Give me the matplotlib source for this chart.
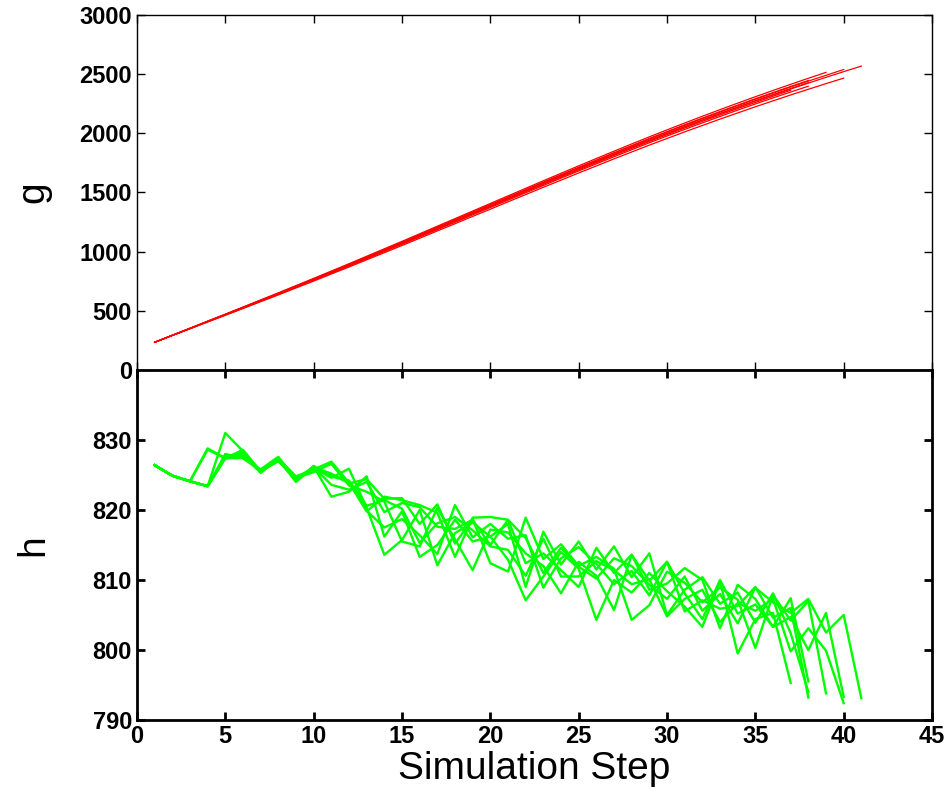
import matplotlib
matplotlib.use("Agg")
import matplotlib.pyplot as plt

plt.rcParams['font.family'] = ['Liberation Sans', 'DejaVu Sans']

# g per run (run i covers steps 1..len)
g_runs = [
    [234, 293, 350, 409, 466, 525, 584, 642, 702, 761, 822, 883, 944, 1006, 1067, 1130, 1193, 1255, 1318, 1380,
     1443, 1506, 1568, 1630, 1691, 1752, 1813, 1872, 1931, 1988, 2045, 2101, 2155, 2209, 2261, 2313, 2364],
    [234, 292, 349, 408, 465, 523, 581, 639, 699, 758, 818, 878, 939, 1001, 1062, 1124, 1186, 1248, 1311, 1373,
     1435, 1497, 1559, 1621, 1682, 1742, 1802, 1861, 1920, 1977, 2033, 2088, 2142, 2196, 2248, 2299, 2349, 2398],
    [234, 293, 351, 410, 468, 527, 586, 645, 705, 765, 826, 887, 949, 1011, 1073, 1136, 1199, 1262, 1325, 1388,
     1451, 1514, 1577, 1639, 1701, 1762, 1823, 1883, 1942, 2000, 2057, 2113, 2168, 2222, 2275, 2327, 2378, 2428],
    [234, 293, 352, 411, 470, 529, 589, 648, 709, 769, 831, 892, 955, 1017, 1080, 1143, 1207, 1270, 1334, 1397,
     1461, 1524, 1588, 1650, 1713, 1774, 1836, 1896, 1956, 2014, 2072, 2128, 2184, 2238, 2292, 2344, 2396, 2446],
    [234, 294, 353, 413, 472, 532, 592, 652, 713, 774, 836, 898, 961, 1024, 1087, 1151, 1215, 1279, 1343, 1407,
     1471, 1535, 1599, 1662, 1725, 1787, 1849, 1910, 1970, 2029, 2087, 2144, 2200, 2255, 2309, 2362, 2414, 2465,
     2515],
    [234, 293, 352, 411, 469, 529, 588, 647, 708, 768, 830, 891, 953, 1016, 1078, 1141, 1205, 1268, 1331, 1395,
     1458, 1521, 1585, 1647, 1709, 1771, 1832, 1892, 1952, 2010, 2068, 2124, 2179, 2234, 2287, 2339, 2391, 2441,
     2490, 2539],
    [234, 291, 348, 405, 462, 519, 577, 634, 693, 751, 811, 870, 931, 991, 1052, 1113, 1175, 1236, 1298, 1359,
     1421, 1482, 1544, 1604, 1665, 1724, 1784, 1842, 1900, 1956, 2012, 2066, 2120, 2172, 2224, 2274, 2324, 2372,
     2420, 2466],
    [234, 293, 351, 410, 468, 526, 585, 644, 704, 764, 825, 886, 948, 1010, 1072, 1134, 1197, 1260, 1323, 1386,
     1449, 1512, 1575, 1637, 1699, 1759, 1820, 1880, 1939, 1997, 2054, 2110, 2165, 2219, 2272, 2323, 2374, 2424,
     2473, 2521, 2568],
]

# h per run
h_runs = [
    [826.4, 824.9, 824.1, 823.4, 831.0, 828.4, 825.5, 827.3, 824.0, 826.2, 821.9, 822.6, 824.8, 816.2, 819.8,
     813.3, 815.0, 818.6, 815.5, 816.2, 812.9, 807.1, 810.5, 814.0, 811.6, 804.3, 810.0, 808.2, 811.0, 808.4,
     806.2, 803.3, 809.8, 799.5, 804.4, 805.3, 795.3],
    [826.4, 824.9, 824.1, 828.8, 827.4, 827.6, 825.7, 827.4, 824.8, 825.8, 826.9, 823.9, 819.8, 821.9, 821.4,
     820.7, 819.6, 813.3, 818.9, 819.0, 818.6, 812.4, 813.8, 811.4, 809.0, 814.6, 811.0, 813.6, 808.6, 809.5,
     811.7, 810.0, 803.1, 809.3, 807.3, 803.3, 807.4, 795.5],
    [826.4, 824.9, 824.1, 823.4, 828.0, 827.4, 825.6, 827.1, 824.3, 826.0, 824.6, 825.9, 820.3, 813.6, 815.7,
     820.0, 812.1, 816.7, 818.2, 816.2, 818.0, 809.0, 816.9, 812.2, 815.5, 811.5, 814.8, 810.4, 813.8, 805.0,
     808.6, 810.4, 806.6, 808.2, 803.9, 808.1, 802.4, 794.0],
    [826.4, 824.9, 824.1, 823.4, 827.4, 828.6, 825.5, 827.0, 824.6, 825.4, 826.6, 823.5, 822.6, 821.2, 815.5,
     814.8, 820.3, 815.8, 811.4, 817.2, 816.8, 813.8, 812.0, 808.1, 812.6, 810.6, 805.7, 813.6, 809.9, 812.6,
     805.5, 807.1, 805.9, 806.3, 809.0, 804.6, 806.0, 793.2],
    [826.4, 824.9, 824.1, 823.4, 827.6, 827.9, 825.3, 827.4, 824.5, 826.1, 825.2, 823.8, 824.4, 821.6, 821.7,
     818.0, 820.8, 815.2, 818.7, 812.4, 811.2, 818.9, 813.0, 815.1, 812.0, 813.3, 811.6, 804.3, 806.4, 811.2,
     809.6, 806.8, 808.9, 807.2, 800.3, 807.9, 804.2, 807.0, 793.8],
    [826.4, 824.9, 824.1, 823.4, 827.6, 827.8, 825.4, 827.2, 824.1, 826.3, 824.8, 824.1, 819.9, 817.5, 818.7,
     816.4, 813.7, 820.7, 816.1, 818.0, 815.9, 816.4, 808.9, 813.1, 814.7, 812.3, 809.4, 811.3, 807.8, 812.6,
     808.1, 804.4, 810.0, 805.2, 806.5, 803.3, 804.7, 800.0, 805.3, 793.3],
    [826.4, 824.9, 824.1, 828.6, 827.4, 827.4, 825.8, 827.6, 824.2, 825.9, 825.0, 824.2, 820.6, 821.4, 820.2,
     815.3, 818.1, 819.0, 817.1, 814.8, 814.3, 810.6, 815.9, 810.5, 810.5, 812.7, 811.4, 809.4, 810.1, 804.8,
     807.3, 808.6, 804.0, 806.7, 805.6, 807.3, 799.8, 803.1, 799.9, 792.4],
    [826.4, 824.9, 824.1, 823.4, 827.4, 828.2, 825.6, 827.0, 824.4, 826.1, 823.6, 822.9, 824.0, 819.7, 821.0,
     820.4, 817.6, 817.3, 818.6, 815.0, 818.6, 816.0, 811.0, 814.6, 811.9, 810.2, 813.1, 812.0, 809.3, 807.3,
     810.5, 805.6, 808.0, 803.8, 808.9, 806.8, 805.3, 807.3, 802.5, 805.0, 793.1],
]

g_ticks = [0, 500, 1000, 1500, 2000, 2500, 3000]
h_ticks = [790, 800, 810, 820, 830]
x_ticks = [0, 5, 10, 15, 20, 25, 30, 35, 40, 45]

fig = plt.figure(figsize=(9.44, 7.96), dpi=100)
ax1 = fig.add_axes([0.1451, 0.5352, 0.8422, 0.4460])
ax2 = fig.add_axes([0.1451, 0.0955, 0.8422, 0.4397], sharex=ax1)

for g in g_runs:
    ax1.plot(range(1, len(g) + 1), g, color='#ff0000', linewidth=0.9)
for h in h_runs:
    ax2.plot(range(1, len(h) + 1), h, color='#00ff00', linewidth=1.7)

ax1.set_xlim(0, 45)
ax1.set_ylim(0, 3000)
ax1.set_yticks(g_ticks)
ax2.set_ylim(790, 840)
ax2.set_yticks(h_ticks)
ax2.set_xticks(x_ticks)

for ax, lw in ((ax1, 1.0), (ax2, 2.0)):
    for s in ax.spines.values():
        s.set_linewidth(lw)
    ax.tick_params(direction='in', top=True, right=True, length=6, width=lw,
                   labelsize=17)
    for lab in ax.get_xticklabels() + ax.get_yticklabels():
        lab.set_fontweight('bold')

ax1.tick_params(labelbottom=False)

ax1.set_ylabel('g', fontsize=28)
ax2.set_ylabel('h', fontsize=28)
ax2.set_xlabel('Simulation Step', fontsize=28, labelpad=2)
ax1.yaxis.set_label_coords(-0.108, 0.5)
ax2.yaxis.set_label_coords(-0.108, 0.5)

fig.savefig('out.png', dpi=100)
